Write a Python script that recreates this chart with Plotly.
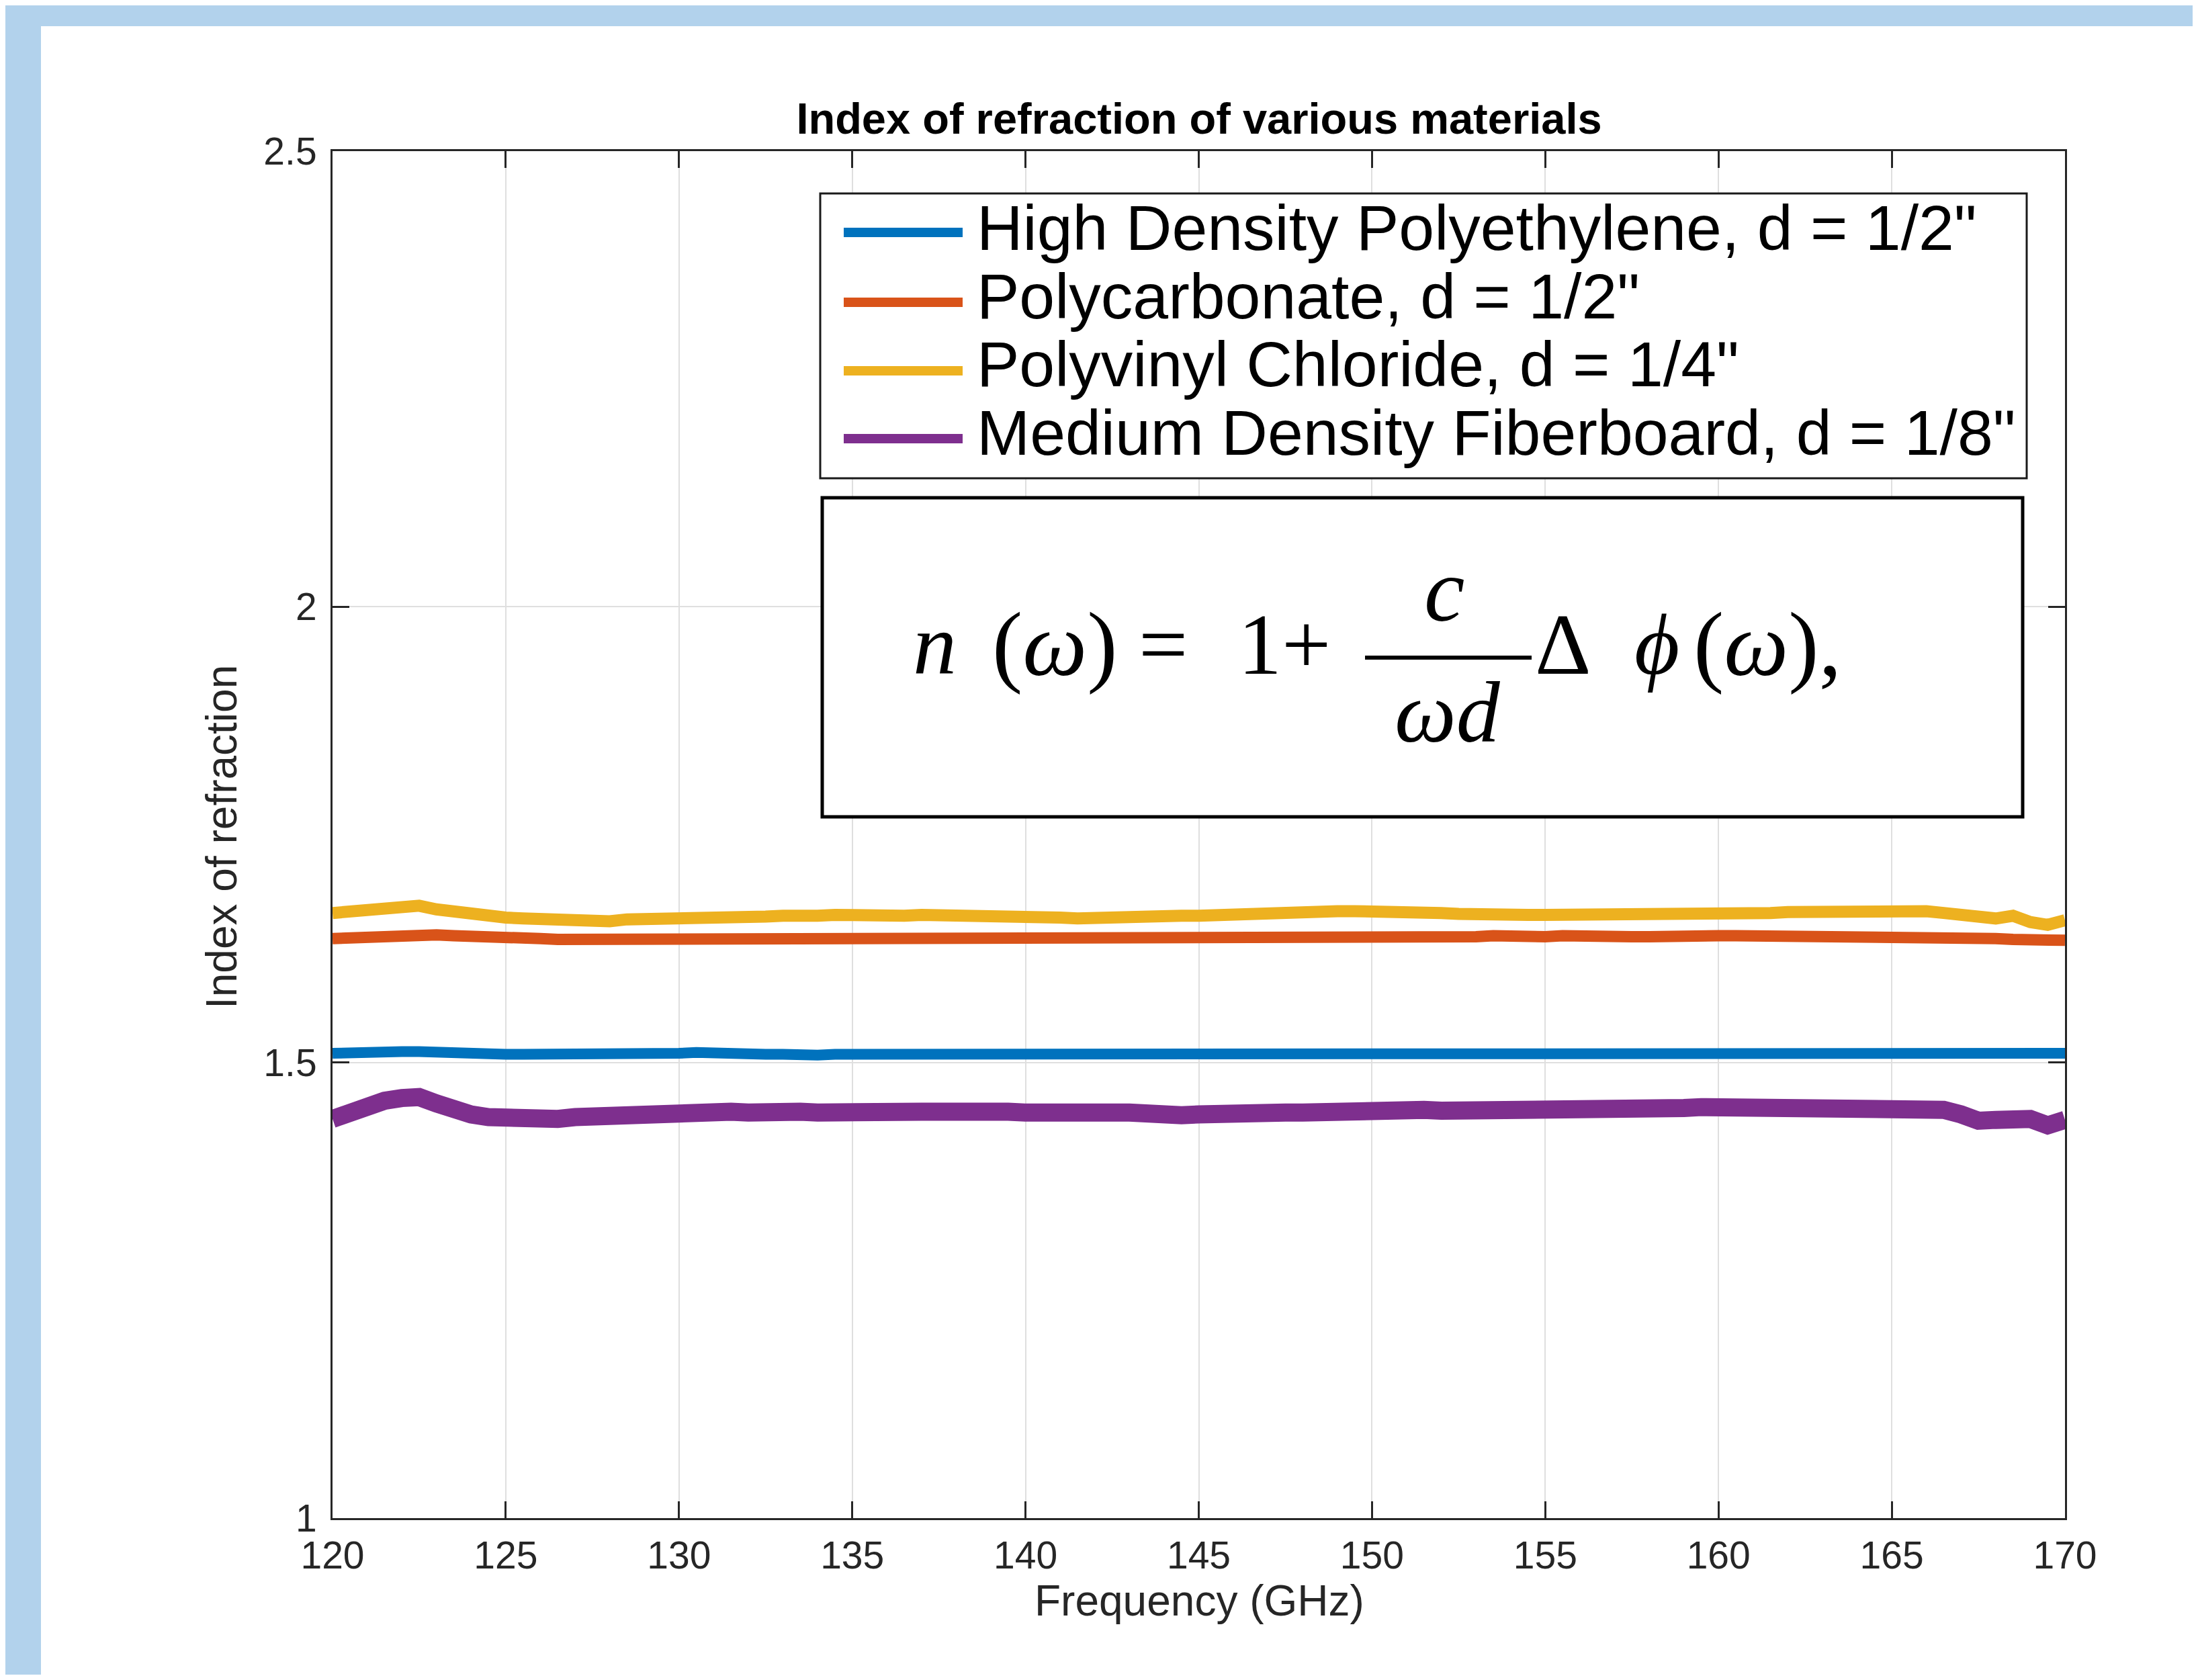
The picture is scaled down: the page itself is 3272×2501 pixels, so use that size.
import numpy as np
import plotly.graph_objects as go

# ---------------- data ----------------
freq = np.arange(120.0, 170.01, 0.5)  # GHz sample grid

hdpe = [1.510, 1.511, 1.511, 1.512, 1.512, 1.512, 1.511, 1.511, 1.511, 1.510,
        1.509, 1.509, 1.509, 1.508, 1.509, 1.508, 1.508, 1.509, 1.509, 1.509,
        1.510, 1.511, 1.510, 1.510, 1.509, 1.509, 1.509, 1.508, 1.508, 1.509,
        1.509, 1.509, 1.509, 1.509, 1.510, 1.510, 1.510, 1.509, 1.510, 1.509,
        1.509, 1.509, 1.509, 1.509, 1.509, 1.509, 1.509, 1.509, 1.510, 1.510,
        1.510, 1.511, 1.511, 1.511, 1.511, 1.510, 1.510, 1.510, 1.509, 1.509,
        1.509, 1.509, 1.509, 1.509, 1.509, 1.509, 1.510, 1.510, 1.510, 1.510,
        1.510, 1.509, 1.509, 1.509, 1.509, 1.509, 1.509, 1.509, 1.509, 1.509,
        1.509, 1.509, 1.510, 1.510, 1.510, 1.510, 1.509, 1.509, 1.509, 1.509,
        1.509, 1.509, 1.509, 1.509, 1.510, 1.510, 1.510, 1.510, 1.510, 1.510,
        1.510]

pc = [1.636, 1.637, 1.638, 1.639, 1.640, 1.640, 1.640, 1.639, 1.639, 1.638,
      1.637, 1.636, 1.636, 1.635, 1.635, 1.635, 1.635, 1.636, 1.636, 1.636,
      1.637, 1.637, 1.637, 1.636, 1.637, 1.637, 1.637, 1.636, 1.636, 1.637,
      1.637, 1.636, 1.637, 1.637, 1.637, 1.637, 1.636, 1.637, 1.636, 1.636,
      1.637, 1.637, 1.636, 1.637, 1.637, 1.637, 1.637, 1.637, 1.637, 1.638,
      1.637, 1.638, 1.638, 1.637, 1.638, 1.638, 1.638, 1.638, 1.638, 1.638,
      1.638, 1.638, 1.638, 1.638, 1.638, 1.638, 1.638, 1.639, 1.638, 1.638,
      1.638, 1.639, 1.638, 1.638, 1.639, 1.638, 1.638, 1.639, 1.639, 1.639,
      1.639, 1.639, 1.639, 1.638, 1.639, 1.638, 1.638, 1.638, 1.638, 1.638,
      1.638, 1.638, 1.638, 1.637, 1.636, 1.636, 1.636, 1.635, 1.634, 1.632,
      1.634]

pvc = [1.664, 1.666, 1.667, 1.668, 1.671, 1.672, 1.668, 1.665, 1.662, 1.660,
       1.659, 1.658, 1.657, 1.658, 1.656, 1.657, 1.655, 1.657, 1.657, 1.658,
       1.659, 1.658, 1.660, 1.659, 1.660, 1.660, 1.661, 1.660, 1.661, 1.662,
       1.661, 1.662, 1.662, 1.661, 1.662, 1.662, 1.662, 1.661, 1.662, 1.661,
       1.660, 1.659, 1.659, 1.658, 1.659, 1.659, 1.660, 1.659, 1.660, 1.661,
       1.661, 1.662, 1.663, 1.663, 1.664, 1.664, 1.665, 1.665, 1.666, 1.666,
       1.666, 1.667, 1.666, 1.665, 1.664, 1.663, 1.662, 1.663, 1.663, 1.662,
       1.662, 1.662, 1.662, 1.661, 1.662, 1.662, 1.662, 1.662, 1.663, 1.663,
       1.663, 1.664, 1.664, 1.664, 1.665, 1.665, 1.666, 1.666, 1.666, 1.667,
       1.667, 1.668, 1.666, 1.664, 1.662, 1.658, 1.658, 1.661, 1.654, 1.651,
       1.656]

mdf = [1.438, 1.445, 1.455, 1.458, 1.461, 1.462, 1.455, 1.447, 1.443, 1.440,
       1.439, 1.438, 1.439, 1.438, 1.440, 1.441, 1.442, 1.444, 1.444, 1.446,
       1.447, 1.445, 1.447, 1.446, 1.445, 1.447, 1.446, 1.446, 1.445, 1.446,
       1.444, 1.446, 1.446, 1.445, 1.446, 1.446, 1.447, 1.446, 1.447, 1.446,
       1.445, 1.446, 1.445, 1.446, 1.447, 1.445, 1.445, 1.444, 1.440, 1.442,
       1.443, 1.444, 1.445, 1.447, 1.447, 1.445, 1.445, 1.446, 1.446, 1.445,
       1.445, 1.447, 1.448, 1.448, 1.447, 1.447, 1.446, 1.447, 1.447, 1.448,
       1.448, 1.448, 1.448, 1.449, 1.449, 1.449, 1.449, 1.450, 1.450, 1.451,
       1.451, 1.452, 1.452, 1.451, 1.450, 1.450, 1.449, 1.450, 1.450, 1.451,
       1.451, 1.452, 1.451, 1.448, 1.443, 1.436, 1.437, 1.440, 1.438, 1.431,
       1.437]

series_names = ['High Density Polyethylene, d = 1/2"',
                'Polycarbonate, d = 1/2"',
                'Polyvinyl Chloride, d = 1/4"',
                'Medium Density Fiberboard, d = 1/8"']
series_values = [hdpe, pc, pvc, mdf]
colors = ["#0072BD", "#D95319", "#EDB120", "#7E2F8E"]
widths = [16, 17, 18, 27]

x_ticks = [120, 125, 130, 135, 140, 145, 150, 155, 160, 165, 170]
y_ticks = [1, 1.5, 2, 2.5]

# ---------------- layout geometry ----------------
# The page body keeps its default 8 px margin, so the figure is made 16 px
# smaller than the window and every position below is given in window pixels.
OFF = 8
WIN_W, WIN_H = 3272, 2501
FW, FH = WIN_W - 2 * OFF, WIN_H - 2 * OFF
PLOT_L, PLOT_R, PLOT_T, PLOT_B = 495, 3074, 225, 2260   # window pixels
ML, MT = PLOT_L - OFF, PLOT_T - OFF
MR, MB = FW - (PLOT_R - OFF), FH - (PLOT_B - OFF)
PW = PLOT_R - PLOT_L
PH = PLOT_B - PLOT_T


def px(X):
    return (X - PLOT_L) / PW


def py(Y):
    return (PLOT_B - Y) / PH


AX = "#262626"
SANS = "Liberation Sans, Arial, Helvetica, sans-serif"
SERIF = "Liberation Serif, Times New Roman, serif"

fig = go.Figure()
for name, vals, col, w in zip(series_names, series_values, colors, widths):
    fig.add_trace(go.Scatter(x=freq, y=vals, mode="lines", name=name,
                             line=dict(color=col, width=w), showlegend=False))

shapes = []
# white page area (the light-blue strip is the surrounding window)
shapes.append(dict(type="rect", xref="paper", yref="paper", layer="below",
                   x0=px(61), x1=px(WIN_W + 20), y0=py(WIN_H + 20), y1=py(39),
                   fillcolor="white", line=dict(width=0)))
# legend box
shapes.append(dict(type="rect", xref="paper", yref="paper", layer="above",
                   x0=px(1221), x1=px(3017), y0=py(712), y1=py(288),
                   fillcolor="white", line=dict(color="#1a1a1a", width=3)))
# equation box
shapes.append(dict(type="rect", xref="paper", yref="paper", layer="above",
                   x0=px(1224), x1=px(3011), y0=py(1216), y1=py(741),
                   fillcolor="white", line=dict(color="black", width=5)))
# fraction bar
shapes.append(dict(type="line", xref="paper", yref="paper", layer="above",
                   x0=px(2032), x1=px(2280), y0=py(979), y1=py(979),
                   line=dict(color="black", width=6)))

annotations = []
leg_line_y = [346, 450, 552, 653]
leg_text_y = [339, 441, 542, 644]
for name, col, ly, ty in zip(series_names, colors, leg_line_y, leg_text_y):
    shapes.append(dict(type="line", xref="paper", yref="paper", layer="above",
                       x0=px(1256), x1=px(1433), y0=py(ly), y1=py(ly),
                       line=dict(color=col, width=14)))
    annotations.append(dict(text=name, xref="paper", yref="paper",
                            x=px(1452), y=py(ty), xanchor="left", yanchor="middle",
                            showarrow=False, font=dict(family=SANS, size=95, color="black")))

# equation n(w) = 1 + c/(w d) * dphi(w)
EQ = 130
eq_mid = 959
eq_parts = [("<i>n</i>", 1357, eq_mid, "left", EQ),
            ("(<i>ω</i>)", 1475, eq_mid, "left", 136),
            ("=", 1693, eq_mid, "left", EQ),
            ("1+", 1841, eq_mid, "left", EQ),
            ("<i>c</i>", 2150, 878, "center", 136),
            ("<i>ωd</i>", 2155, 1060, "center", EQ),
            ("Δ", 2283, eq_mid, "left", EQ),
            ("<i>ϕ</i>", 2431, eq_mid, "left", EQ),
            ("(<i>ω</i>),", 2519, eq_mid, "left", 136)]
for txt, X, Y, xa, sz in eq_parts:
    annotations.append(dict(text=txt, xref="paper", yref="paper", x=px(X), y=py(Y),
                            xanchor=xa, yanchor="middle", showarrow=False,
                            font=dict(family=SERIF, size=sz, color="black")))

# axis titles
annotations.append(dict(text="Frequency (GHz)", xref="paper", yref="paper",
                        x=px(1785), y=py(2383), xanchor="center", yanchor="middle",
                        showarrow=False, font=dict(family=SANS, size=64, color=AX)))
annotations.append(dict(text="Index of refraction", xref="paper", yref="paper",
                        x=px(330), y=py(1246), xanchor="center", yanchor="middle",
                        textangle=-90, showarrow=False,
                        font=dict(family=SANS, size=64, color=AX)))

axis_common = dict(showline=True, linecolor=AX, linewidth=3, mirror="ticks",
                   ticks="inside", ticklen=25, tickwidth=3, tickcolor=AX,
                   showgrid=True, gridcolor="#DFDFDF", gridwidth=2, zeroline=False,
                   tickfont=dict(family=SANS, size=57, color=AX))

fig.update_layout(
    width=FW, height=FH,
    margin=dict(l=ML, r=MR, t=MT, b=MB, pad=0),
    paper_bgcolor="#B2D2EC", plot_bgcolor="white",
    title=dict(text="<b>Index of refraction of various materials</b>",
               x=px(1785), xref="paper", xanchor="center",
               y=1 - (176 - OFF) / FH, yref="container", yanchor="middle",
               font=dict(family=SANS, size=65, color="black")),
    xaxis=dict(range=[120, 170], tickvals=x_ticks, ticklabelstandoff=4, **axis_common),
    yaxis=dict(range=[1, 2.5], tickvals=y_ticks, ticklabelstandoff=9, **axis_common),
    shapes=shapes, annotations=annotations, showlegend=False,
)

fig.write_html("out.html")
